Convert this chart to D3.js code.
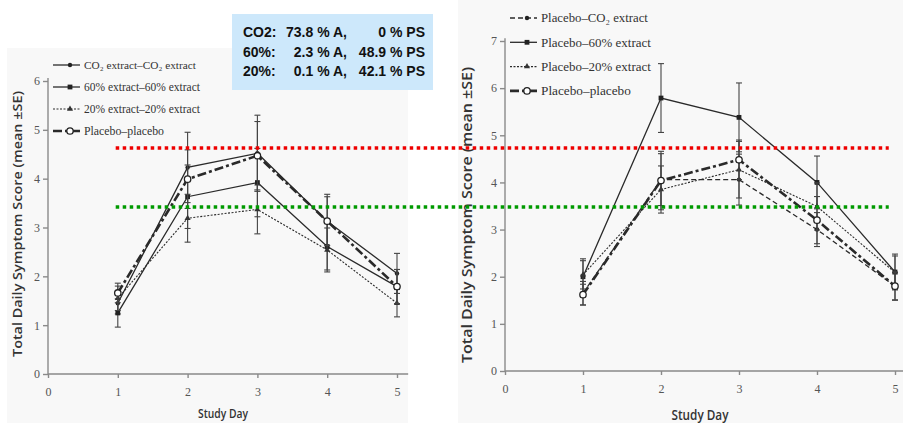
<!DOCTYPE html>
<meta charset="utf-8">
<style>
body { margin: 0; background: #fff; }
svg { display: block; }
.axis .tick text { font-family: "Liberation Serif", serif; font-size: 12px; fill: #555; }
.axis line, .axis-line { stroke: #8a8a8a; stroke-width: 1.4; }
.axis path { display: none; }
.title { font-family: "Open Sans", sans-serif; font-weight: 600; fill: #333; }
.legend text { font-family: "Liberation Serif", serif; fill: #333; }
.info text { font-family: "Liberation Sans", Arial, sans-serif; font-weight: bold; font-size: 14px; fill: #111; }
.err { stroke: #444; stroke-width: 1.1; }
</style>
<svg width="903" height="423"></svg>
<script src="https://d3js.org/d3.v7.min.js"></script>
<script>

var days = [1, 2, 3, 4, 5];

// left panel: same treatment both courses
var leftCO2 = [1.45, 4.23, 4.52, 3.13, 2.06];
var leftCO2SE = [0.22, 0.72, 0.78, 0.55, 0.41];
var left60 = [1.25, 3.63, 3.92, 2.61, 1.79];
var left60SE = [0.29, 0.65, 0.70, 0.48, 0.35];
var left20 = [1.55, 3.19, 3.37, 2.54, 1.45];
var left20SE = [0.25, 0.49, 0.50, 0.45, 0.28];
var leftPlacebo = [1.66, 3.99, 4.47, 3.13, 1.79];
var leftPlaceboSE = [0.20, 0.60, 0.70, 0.50, 0.35];

// right panel: placebo first, extract second
var rightCO2 = [1.65, 4.06, 4.06, 3.00, 1.80];
var rightCO2SE = [0.25, 0.55, 0.54, 0.36, 0.29];
var right60 = [2.00, 5.79, 5.38, 4.00, 2.10];
var right60SE = [0.38, 0.73, 0.73, 0.56, 0.38];
var right20 = [2.04, 3.85, 4.27, 3.49, 2.09];
var right20SE = [0.30, 0.50, 0.60, 0.50, 0.35];
var rightPlacebo = [1.62, 4.04, 4.48, 3.20, 1.80];
var rightPlaceboSE = [0.22, 0.62, 0.42, 0.50, 0.30];

var leftNames = ["CO₂ extract–CO₂ extract", "60% extract–60% extract", "20% extract–20% extract", "Placebo–placebo"];
var rightNames = ["Placebo–CO₂ extract", "Placebo–60% extract", "Placebo–20% extract", "Placebo–placebo"];

var xTicks = [0, 1, 2, 3, 4, 5];
var leftYTicks = [0, 1, 2, 3, 4, 5, 6];
var rightYTicks = [0, 1, 2, 3, 4, 5, 6, 7];

// the two highlighted levels, read on the right panel's scale
var refLevels = [4.73, 3.48];
var refColors = ["#ee0000", "#009a00"];

var infoGroups = ["CO2:", "60%:", "20%:"];
var infoA = ["73.8 % A,", "2.3 % A,", "0.1 % A,"];
var infoPS = ["0 % PS", "48.9 % PS", "42.1 % PS"];

var svg = d3.select("svg");

// line styles per arm
var styles = {
  co2:     {width: 1.3, dash: null, marker: "dot"},
  co2dash: {width: 1.3, dash: "5,3", marker: "dot"},
  p60:     {width: 1.3, dash: null, marker: "square"},
  p20:     {width: 1.1, dash: "2,1.5", marker: "tri"},
  placebo: {width: 2.6, dash: "9,3,3,3", marker: "open"}
};

function drawMarker(sel, kind) {
  if (kind === "dot") {
    sel.append("circle").attr("r", 2.2).attr("fill", "#222");
  } else if (kind === "square") {
    sel.append("rect").attr("x", -2.4).attr("y", -2.4).attr("width", 4.8).attr("height", 4.8).attr("fill", "#222");
  } else if (kind === "tri") {
    sel.append("path").attr("d", d3.symbol(d3.symbolTriangle, 16)).attr("fill", "#333");
  } else {
    sel.append("circle").attr("r", 3.2).attr("fill", "#fff").attr("stroke", "#222").attr("stroke-width", 1.3);
  }
}

function panel(opt) {
  svg.append("rect")
      .attr("x", opt.bg[0]).attr("y", opt.bg[1])
      .attr("width", opt.bg[2]).attr("height", opt.bg[3])
      .attr("fill", "#f8f8f8");

  var x = d3.scaleLinear().domain([0, 5]).range(opt.xRange),
      y = d3.scaleLinear().domain([0, opt.yMax]).range(opt.yRange);

  var g = svg.append("g");

  g.append("line").attr("class", "axis-line")
      .attr("x1", x(0)).attr("x2", x(opt.xEnd))
      .attr("y1", y(0)).attr("y2", y(0));
  g.append("line").attr("class", "axis-line")
      .attr("x1", x(0)).attr("x2", x(0))
      .attr("y1", y(0)).attr("y2", y(opt.yMax + 0.06));

  g.append("g").attr("class", "axis")
      .attr("transform", "translate(0," + y(0) + ")")
      .call(d3.axisBottom(x).tickValues(xTicks).tickSize(4).tickPadding(9).tickFormat(d3.format("d")));
  g.append("g").attr("class", "axis")
      .attr("transform", "translate(" + x(0) + ",0)")
      .call(d3.axisLeft(y).tickValues(opt.yTicks).tickSize(5).tickPadding(3).tickFormat(d3.format("d")));

  g.append("text").attr("class", "title")
      .attr("transform", "translate(" + opt.yTitle[0] + "," + opt.yTitle[1] + ") rotate(-90)")
      .attr("text-anchor", "middle")
      .attr("font-size", opt.yTitle[3])
      .attr("textLength", opt.yTitle[2]).attr("lengthAdjust", "spacingAndGlyphs")
      .text("Total Daily Symptom Score (mean ±SE)");
  g.append("text").attr("class", "title")
      .attr("x", opt.xTitle[0]).attr("y", opt.xTitle[1])
      .attr("text-anchor", "middle")
      .attr("font-size", opt.xTitle[3])
      .attr("textLength", opt.xTitle[2]).attr("lengthAdjust", "spacingAndGlyphs")
      .text("Study Day");

  var line = d3.line().x(function(d) { return x(d.day); }).y(function(d) { return y(d.v); });

  opt.series.forEach(function(s) {
    var pts = days.map(function(d, i) { return {day: d, v: s.values[i], se: s.se[i]}; });
    var st = styles[s.style];
    var sg = g.append("g");
    sg.selectAll("g.err").data(pts).enter().append("g").attr("class", "err")
      .each(function(d) {
        var e = d3.select(this), cx = x(d.day);
        e.append("line").attr("x1", cx).attr("x2", cx).attr("y1", y(d.v - d.se)).attr("y2", y(d.v + d.se));
        e.append("line").attr("x1", cx - 3).attr("x2", cx + 3).attr("y1", y(d.v - d.se)).attr("y2", y(d.v - d.se));
        e.append("line").attr("x1", cx - 3).attr("x2", cx + 3).attr("y1", y(d.v + d.se)).attr("y2", y(d.v + d.se));
      });
    sg.append("path").datum(pts)
        .attr("d", line)
        .attr("fill", "none")
        .attr("stroke", "#2a2a2a")
        .attr("stroke-width", st.width)
        .attr("stroke-dasharray", st.dash);
    sg.selectAll("g.mk").data(pts).enter().append("g")
        .attr("transform", function(d) { return "translate(" + x(d.day) + "," + y(d.v) + ")"; })
        .each(function() { drawMarker(d3.select(this), st.marker); });
  });

  // legend: font size is scaled so each label spans the measured width
  var lg = g.append("g").attr("class", "legend");
  opt.series.forEach(function(s, i) {
    var st = styles[s.style], ly = opt.legend[1] + i * opt.legend[3];
    lg.append("line")
        .attr("x1", opt.legend[0]).attr("x2", opt.legend[0] + 27)
        .attr("y1", ly).attr("y2", ly)
        .attr("stroke", "#2a2a2a").attr("stroke-width", st.width)
        .attr("stroke-dasharray", st.dash);
    drawMarker(lg.append("g").attr("transform", "translate(" + (opt.legend[0] + 17) + "," + ly + ")"), st.marker);
    var t = lg.append("text")
        .attr("x", opt.legend[0] + 31)
        .attr("font-size", 12)
        .text(s.name);
    var fs = 12 * opt.legendWidths[i] / t.node().getComputedTextLength();
    t.attr("font-size", fs).attr("y", ly + fs * 0.33);
  });

  return {x: x, y: y};
}

var L = panel({
  bg: [7, 48, 401, 375],
  xRange: [48, 397], yRange: [374, 81], yMax: 6, yTicks: leftYTicks, xEnd: 5.16,
  yTitle: [22, 224, 266, 12.5], xTitle: [223, 418, 50, 12],
  legend: [53, 65, 0, 22], legendWidths: [112, 116, 116, 80],
  series: [
    {name: leftNames[0], values: leftCO2, se: leftCO2SE, style: "co2"},
    {name: leftNames[1], values: left60, se: left60SE, style: "p60"},
    {name: leftNames[2], values: left20, se: left20SE, style: "p20"},
    {name: leftNames[3], values: leftPlacebo, se: leftPlaceboSE, style: "placebo"}
  ]
});

var R = panel({
  bg: [458, 0, 445, 423],
  xRange: [505, 895], yRange: [371, 41], yMax: 7, yTicks: rightYTicks, xEnd: 5.12,
  yTitle: [472, 215, 296, 14], xTitle: [700, 420, 57, 14],
  legend: [510, 18, 0, 24.3], legendWidths: [107, 110, 110, 90],
  series: [
    {name: rightNames[0], values: rightCO2, se: rightCO2SE, style: "co2dash"},
    {name: rightNames[1], values: right60, se: right60SE, style: "p60"},
    {name: rightNames[2], values: right20, se: right20SE, style: "p20"},
    {name: rightNames[3], values: rightPlacebo, se: rightPlaceboSE, style: "placebo"}
  ]
});

// highlighted levels across both panels
svg.append("g").selectAll("line")
  .data(refLevels)
  .enter().append("line")
    .attr("x1", L.x(0.97))
    .attr("x2", R.x(4.92))
    .attr("y1", function(d) { return R.y(d); })
    .attr("y2", function(d) { return R.y(d); })
    .attr("stroke", function(d, i) { return refColors[i]; })
    .attr("stroke-width", 3.5)
    .attr("stroke-dasharray", "3.5,3.5");

// info box
var info = svg.append("g").attr("class", "info");
info.append("rect")
    .attr("x", 232).attr("y", 14).attr("width", 201).attr("height", 76)
    .attr("fill", "#cde8fb");
infoGroups.forEach(function(lab, i) {
  var by = 37 + i * 19.5;
  info.append("text").attr("x", 243).attr("y", by).text(lab);
  info.append("text").attr("x", 347).attr("y", by).attr("text-anchor", "end").text(infoA[i]);
  info.append("text").attr("x", 425).attr("y", by).attr("text-anchor", "end").text(infoPS[i]);
});

</script>
